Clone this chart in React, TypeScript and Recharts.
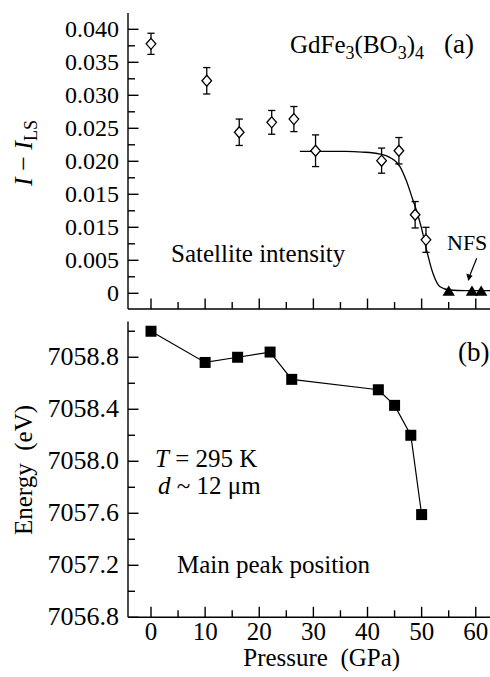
import React from 'react';
import { ComposedChart, Line, Scatter, XAxis, YAxis, ErrorBar } from 'recharts';

const FONT = '"Liberation Serif", "Times New Roman", Times, serif';

// ---- Panel (a): satellite intensity ----
const satPressure = [0, 10.3, 16.3, 22.3, 26.4, 30.4, 42.6, 45.8, 48.8, 50.8];
const satIntensity = [0.0378, 0.0322, 0.0244, 0.0259, 0.0264, 0.0216, 0.0201, 0.0216, 0.0119, 0.0081];
const satError = [0.0016, 0.002, 0.002, 0.0018, 0.0019, 0.0024, 0.0019, 0.002, 0.002, 0.0019];
const nfsPressure = [55.0, 59.3, 61.0];
const nfsIntensity = [0.0002, 0.0002, 0.0002];
const fitPressure = [27.5, 32, 36, 39, 42.3, 44.1, 46.0, 47.2, 48.4, 49.1, 50.0, 50.9, 52.1, 53.4, 55.2, 58, 63];
const fitIntensity = [0.0215, 0.0215, 0.0215, 0.0214, 0.0211, 0.0206, 0.0192, 0.017, 0.0141, 0.0124, 0.0098, 0.0066, 0.003, 0.001, 0.0005, 0.0004, 0.0004];

// ---- Panel (b): main peak position ----
const peakPressure = [0, 10, 16, 22, 26, 42, 45, 48, 50];
const peakEnergy = [7059.0, 7058.76, 7058.8, 7058.84, 7058.63, 7058.55, 7058.43, 7058.2, 7057.59];

// ---- ticks ----
const pressureMajor = [0, 10, 20, 30, 40, 50, 60];
const pressureMinor = [5, 15, 25, 35, 45, 55];
const pressureLabels = ['0', '10', '20', '30', '40', '50', '60'];

const intensityMajor = [0, 0.005, 0.01, 0.015, 0.02, 0.025, 0.03, 0.035, 0.04];
const intensityMinor = [0.0025, 0.0075, 0.0125, 0.0175, 0.0225, 0.0275, 0.0325, 0.0375];
const intensityLabels = ['0', '0.005', '0.015', '0.015', '0.020', '0.025', '0.030', '0.035', '0.040'];

const energyMajor = [7056.8, 7057.2, 7057.6, 7058.0, 7058.4, 7058.8];
const energyMinor = [7057.0, 7057.4, 7057.8, 7058.2, 7058.6, 7059.0];
const energyLabels = ['7056.8', '7057.2', '7057.6', '7058.0', '7058.4', '7058.8'];

const satData = satPressure.map((x, i) => ({ x, y: satIntensity[i], err: satError[i] }));
const nfsData = nfsPressure.map((x, i) => ({ x, y: nfsIntensity[i] }));
const fitData = fitPressure.map((x, i) => ({ x, y: fitIntensity[i] }));
const peakData = peakPressure.map((x, i) => ({ x, y: peakEnergy[i] }));

const sortNum = (a: number[]) => [...a].sort((p, q) => p - q);
const findIdx = (arr: number[], v: number) => arr.findIndex((m) => Math.abs(m - v) < 1e-7);

const X_DOMAIN: [number, number] = [-4.25, 63];
const STROKE = 1.4;

const fontStyle = (size: number) => ({ fontFamily: FONT, fontSize: size });

const makeXTick = (withLabels: boolean) => (props: any) => {
  const { x, y, payload } = props;
  const idx = findIdx(pressureMajor, payload.value);
  const major = idx >= 0;
  return (
    <g>
      <line x1={x} x2={x} y1={y} y2={y - (major ? 10.5 : 7)} stroke="#000" strokeWidth={STROKE} />
      {withLabels && major && (
        <text x={x} y={y + 23} textAnchor="middle" fontFamily={FONT} fontSize={25} style={fontStyle(25)} fill="#000">
          {pressureLabels[idx]}
        </text>
      )}
    </g>
  );
};

const makeYTick = (major: number[], labels: string[], fontSize: number) => (props: any) => {
  const { x, y, payload } = props;
  const idx = findIdx(major, payload.value);
  const isMajor = idx >= 0;
  return (
    <g>
      <line x1={x} x2={x + (isMajor ? 10.5 : 7)} y1={y} y2={y} stroke="#000" strokeWidth={STROKE} />
      {isMajor && (
        <text
          x={x - 9}
          y={y + 8}
          textAnchor="end"
          fontFamily={FONT}
          fontSize={fontSize}
          style={fontStyle(fontSize)}
          fill="#000"
        >
          {labels[idx]}
        </text>
      )}
    </g>
  );
};

const Diamond = (props: any) => {
  const { cx, cy } = props;
  if (cx == null || cy == null) return null;
  return (
    <polygon
      points={`${cx},${cy - 5.5} ${cx + 4.8},${cy} ${cx},${cy + 5.5} ${cx - 4.8},${cy}`}
      fill="#fff"
      stroke="#000"
      strokeWidth={1.3}
    />
  );
};

const Triangle = (props: any) => {
  const { cx, cy } = props;
  if (cx == null || cy == null) return null;
  return <polygon points={`${cx},${cy - 6.5} ${cx + 6.2},${cy + 3.8} ${cx - 6.2},${cy + 3.8}`} fill="#000" />;
};

const SquareDot = (props: any) => {
  const { cx, cy, index } = props;
  if (cx == null || cy == null) return <g key={index} />;
  return <rect key={index} x={cx - 5.5} y={cy - 5.5} width={11} height={11} fill="#000" />;
};

const T = (size: number) => ({ fontFamily: FONT, fontSize: size, fill: '#000', style: fontStyle(size) });

export default function App() {
  return (
    <div
      style={{
        position: 'absolute',
        left: 0,
        top: 0,
        width: 490,
        height: 677,
        overflow: 'hidden',
        background: '#fff',
        fontFamily: FONT,
      }}
    >
      <div style={{ position: 'absolute', left: 0, top: 0 }}>
        <ComposedChart width={540} height={330} margin={{ top: 13, right: 48, left: 0, bottom: 0 }}>
          <XAxis
            dataKey="x"
            type="number"
            domain={X_DOMAIN}
            allowDataOverflow
            ticks={sortNum([...pressureMajor, ...pressureMinor])}
            interval={0}
            height={21}
            tickSize={0}
            tickMargin={0}
            tickLine={false}
            axisLine={{ stroke: '#000', strokeWidth: STROKE }}
            tick={makeXTick(false)}
          />
          <XAxis
            xAxisId="top"
            orientation="top"
            type="number"
            domain={X_DOMAIN}
            allowDataOverflow
            height={0}
            tick={false}
            tickLine={false}
            axisLine={{ stroke: '#000', strokeWidth: STROKE }}
          />
          <YAxis
            dataKey="y"
            type="number"
            domain={[-0.00238, 0.04247]}
            allowDataOverflow
            ticks={sortNum([...intensityMajor, ...intensityMinor])}
            interval={0}
            width={128}
            tickSize={0}
            tickMargin={0}
            tickLine={false}
            axisLine={{ stroke: '#000', strokeWidth: STROKE }}
            tick={makeYTick(intensityMajor, intensityLabels, 24)}
          />
          <Line
            data={fitData}
            dataKey="y"
            type="monotone"
            dot={false}
            activeDot={false}
            stroke="#000"
            strokeWidth={1.3}
            isAnimationActive={false}
          />
          <Scatter data={satData} dataKey="y" shape={Diamond} isAnimationActive={false}>
            <ErrorBar dataKey="err" direction="y" width={3.6} stroke="#000" strokeWidth={1.3} isAnimationActive={false} />
          </Scatter>
          <Scatter data={nfsData} dataKey="y" shape={Triangle} isAnimationActive={false} />
        </ComposedChart>
      </div>

      <div style={{ position: 'absolute', left: 0, top: 310 }}>
        <ComposedChart width={540} height={367} margin={{ top: 11.5, right: 48, left: 0, bottom: 0 }}>
          <XAxis
            dataKey="x"
            type="number"
            domain={X_DOMAIN}
            allowDataOverflow
            ticks={sortNum([...pressureMajor, ...pressureMinor])}
            interval={0}
            height={59.7}
            tickSize={0}
            tickMargin={0}
            tickLine={false}
            axisLine={{ stroke: '#000', strokeWidth: STROKE }}
            tick={makeXTick(true)}
          />
          <XAxis
            xAxisId="top"
            orientation="top"
            type="number"
            domain={X_DOMAIN}
            allowDataOverflow
            height={0}
            tick={false}
            tickLine={false}
            axisLine={{ stroke: '#000', strokeWidth: STROKE }}
          />
          <YAxis
            dataKey="y"
            type="number"
            domain={[7056.8, 7059.075]}
            allowDataOverflow
            ticks={sortNum([...energyMajor, ...energyMinor])}
            interval={0}
            width={128}
            tickSize={0}
            tickMargin={0}
            tickLine={false}
            axisLine={{ stroke: '#000', strokeWidth: STROKE }}
            tick={makeYTick(energyMajor, energyLabels, 26)}
          />
          <Line
            data={peakData}
            dataKey="y"
            type="linear"
            dot={SquareDot}
            activeDot={false}
            stroke="#000"
            strokeWidth={1.2}
            isAnimationActive={false}
          />
        </ComposedChart>
      </div>

      <svg width={490} height={677} style={{ position: 'absolute', left: 0, top: 0, pointerEvents: 'none' }}>
        {/* Panel (a) annotations */}
        <text x={290} y={53} {...T(25)}>
          GdFe<tspan fontSize={18} dy={6}>3</tspan>
          <tspan dy={-6}>(BO</tspan>
          <tspan fontSize={18} dy={6}>3</tspan>
          <tspan dy={-6}>)</tspan>
          <tspan fontSize={18} dy={6}>4</tspan>
        </text>
        <text x={444} y={53} {...T(27)}>(a)</text>
        <text x={171} y={261.5} {...T(25)}>Satellite intensity</text>
        <text x={447} y={250} {...T(22)}>NFS</text>
        <line x1={476.7} y1={258.3} x2={470} y2={275} stroke="#000" strokeWidth={1.2} />
        <polygon points="468.3,281 466.4,273.4 472.6,275.8" fill="#000" />
        <text transform="translate(32,153) rotate(-90)" textAnchor="middle" {...T(26)}>
          <tspan fontStyle="italic">I</tspan>
          <tspan>{'\u00a0\u2212\u00a0'}</tspan>
          <tspan fontStyle="italic">I</tspan>
          <tspan fontSize={18} dy={5}>LS</tspan>
        </text>

        {/* Panel (b) annotations */}
        <text x={458} y={361} {...T(27)}>(b)</text>
        <text x={155} y={466.5} {...T(25)}>
          <tspan fontStyle="italic">T</tspan>
          {'\u00a0=\u00a0295\u00a0K'}
        </text>
        <text x={158} y={494} {...T(25)}>
          <tspan fontStyle="italic">d</tspan>
          {'\u00a0~\u00a012\u00a0\u03bcm'}
        </text>
        <text x={177} y={573} {...T(25)}>Main peak position</text>
        <text transform="translate(31.5,470) rotate(-90)" textAnchor="middle" {...T(25)}>
          {'Energy\u00a0\u00a0(eV)'}
        </text>
        <text x={321.7} y={666} textAnchor="middle" {...T(25)}>
          {'Pressure\u00a0\u00a0(GPa)'}
        </text>
      </svg>
    </div>
  );
}
